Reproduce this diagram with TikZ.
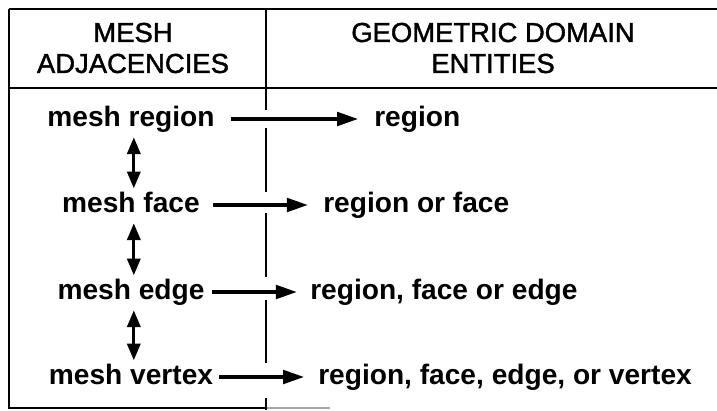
\documentclass[tikz,border=0pt]{standalone}
\usepackage{fontspec}
\setmainfont{Liberation Sans}
\newfontfamily\headfont[FakeBold=1.5]{Liberation Sans}
\usetikzlibrary{arrows.meta}

\begin{document}
\begin{tikzpicture}[x=0.025cm,y=-0.025cm,
  head/.style={font=\headfont\fontsize{19.5}{22}\selectfont,align=center,inner sep=0pt},
  ent/.style={font=\bfseries\fontsize{20}{24}\selectfont,inner sep=0pt,text height=14.6pt,text depth=4.2pt},
  maparrow/.style={line width=2.2pt,-{Triangle[length=5.2mm,width=3.4mm]}},
  adjarrow/.style={line width=2.2pt,{Triangle[length=4.2mm,width=3.3mm]}-{Triangle[length=4.2mm,width=3.3mm]},shorten <=0.12cm,shorten >=0.08cm}]
  \useasboundingbox (0,0) rectangle (717,410);
  % frame of the table
  \draw[line width=2.1pt] (9,9) -- (717,9);
  \draw[line width=2.1pt] (9,88) -- (717,88);
  \draw[line width=1.4pt] (9,9) -- (9,408) -- (266,408);
  \draw[line width=1pt,black!35] (266,408) -- (330,408);
  \foreach \ya/\yb in {9/110,128/192,213/277,300/363,398/410}{
    \draw[line width=1.4pt] (266,\ya) -- (266,\yb);
  }
  % column heads
  \node[head] (hmesh) at (133,48) {MESH\\ADJACENCIES};
  \node[head] (hgeom) at (493,48) {GEOMETRIC DOMAIN\\ENTITIES};
  % mesh entities
  \node[ent] (mreg) at (131,119) {mesh region};
  \node[ent] (mface) at (131,205) {mesh face};
  \node[ent] (medge) at (131,292) {mesh edge};
  \node[ent] (mvert) at (131,377) {mesh vertex};
  % geometric entities
  \node[ent,anchor=west] (greg) at (374,119) {region};
  \node[ent,anchor=west] (gface) at (323,205) {region or face};
  \node[ent,anchor=west] (gedge) at (310,292) {region, face or edge};
  \node[ent,anchor=west] (gvert) at (318,377) {region, face, edge, or vertex};
  % classification
  \draw[maparrow,shorten <=0.4cm,shorten >=0.4cm] (mreg) -- (greg);
  \draw[maparrow,shorten <=0.33cm,shorten >=0.38cm] (mface) -- (gface);
  \draw[maparrow,shorten <=0.18cm,shorten >=0.33cm] (medge) -- (gedge);
  \draw[maparrow,shorten <=0.15cm,shorten >=0.35cm] (mvert) -- (gvert);
  % adjacencies
  \draw[adjarrow] ([xshift=2pt]mreg.south) -- ([xshift=2pt]mface.north);
  \draw[adjarrow] ([xshift=2pt]mface.south) -- ([xshift=2pt]medge.north);
  \draw[adjarrow] ([xshift=2pt]medge.south) -- ([xshift=2pt]mvert.north);
\end{tikzpicture}
\end{document}
